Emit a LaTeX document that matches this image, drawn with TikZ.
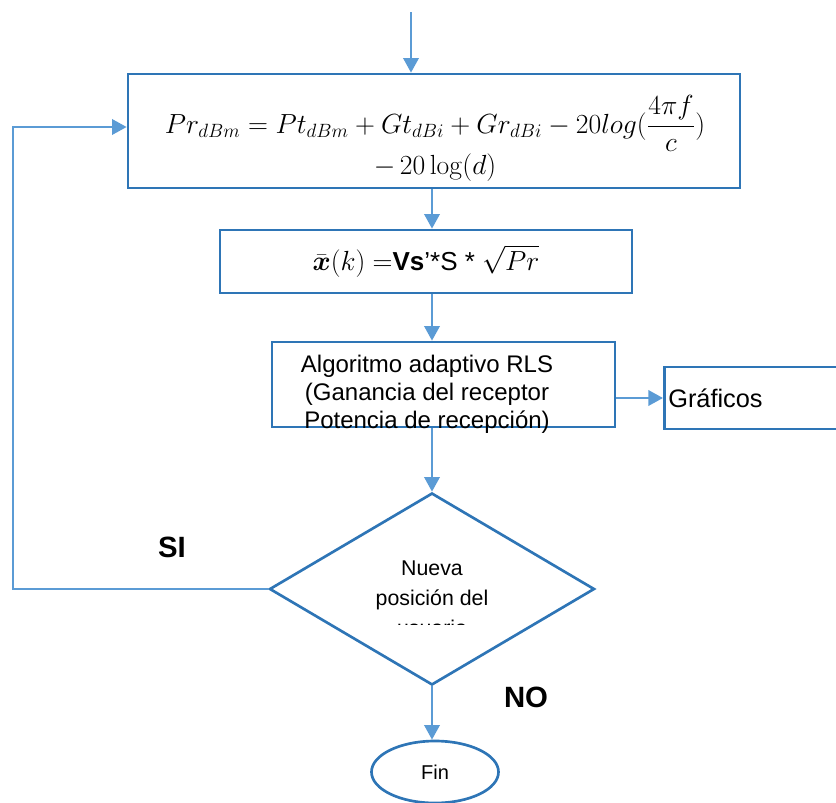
\documentclass[tikz,border=0pt]{standalone}
\usepackage[no-math]{fontspec}
\setmainfont{Liberation Sans}
\usepackage{amsmath,amssymb}
\usetikzlibrary{positioning, arrows.meta, calc, shapes.geometric}
\definecolor{cB}{RGB}{46,117,182}
\definecolor{cA}{RGB}{91,155,213}

\begin{document}
\begin{tikzpicture}[x=0.75pt, y=-0.75pt, >={Triangle[length=11pt,width=11.5pt]},
   box/.style={draw=cB, line width=2pt, inner sep=0pt},
   arr/.style={->, draw=cA, line width=2pt},
   lbl/.style={font=\fontsize{22}{26}\selectfont\bfseries}]
   \useasboundingbox (0,0) rectangle (836,803);
   % Helper points
   \coordinate (top) at (411,12);
   \coordinate (lp) at (13,0);

   % Process boxes
   \node[box, minimum width=459pt, minimum height=85.5pt] (b1) at (434,131) {};
   \node[font=\fontsize{20.5}{28}\selectfont, align=center] (f1) at (435,138)
      {$Pr_{dBm} = Pt_{dBm} + Gt_{dBi} + Gr_{dBi} - 20log(\dfrac{4\pi f}{c})$\\[0pt]
       $-\,20\log(d)$};
   \node[box, minimum width=309pt, minimum height=47.25pt,
         font=\fontsize{19.5}{22}\selectfont] (b2) at (426,261.5)
      {$\bar{\boldsymbol{x}}(k)$ $=$\textbf{Vs}’*S * $\sqrt{Pr}$};
   \node[box, minimum width=257.25pt, minimum height=63.75pt] (b3) at (443.5,384.5) {};
   \node[font=\fontsize{18}{21}\selectfont, align=center] (b3t) at (427,394)
      {Algoritmo adaptivo RLS\\(Ganancia del receptor\\Potencia de recepción)};
   \node[box, anchor=west, minimum height=46.5pt, inner xsep=3pt, text width=160pt,
         align=left, font=\fontsize{19}{22}\selectfont] (graf) at (663,398) {Gráficos};

   % Decision and end
   \node[box, diamond, minimum width=243.75pt, minimum height=144pt] (dia) at (432,589) {};
   \begin{scope}
      \clip (300,540) rectangle (560,624);
      \node[font=\fontsize{16}{22.5}\selectfont, align=center] (diat) at (432,598)
         {Nueva\\posición del\\usuario};
   \end{scope}
   \node[box, ellipse, minimum width=95.25pt, minimum height=46.5pt,
         font=\fontsize{15}{18}\selectfont] (fin) at (435,772) {Fin};
   \node[lbl] (si) at (172,547) {SI};
   \node[lbl] (no) at (526,697) {NO};

   % Connectors
   \draw[arr] (top) -- (top |- b1.north);
   \draw[arr] (b1.south -| dia.north) -- (b2.north -| dia.north);
   \draw[arr] (b2.south -| dia.north) -- (b3.north -| dia.north);
   \draw[arr] (b3.east |- graf) -- (graf.west);
   \draw[arr] (b3.south -| dia.north) -- (dia.north);
   \draw[arr] (dia.south) -- (dia.south |- fin.north);
   \draw[arr] (dia.west) -- (dia.west -| lp) |- ([yshift=3pt]b1.west);
\end{tikzpicture}
\end{document}
